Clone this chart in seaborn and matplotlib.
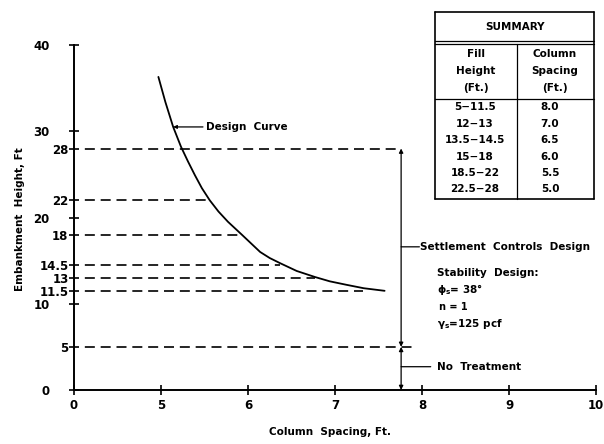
import matplotlib
matplotlib.use("Agg")
import matplotlib.pyplot as plt
import numpy as np
import seaborn as sns
from matplotlib.lines import Line2D

# design curve
curve_x = [4.85, 5.05, 5.14, 5.23, 5.31, 5.39, 5.47, 5.56, 5.66, 5.77, 5.93,
           6.14, 6.25, 6.37, 6.56, 6.77, 6.94, 7.13, 7.33, 7.57]
curve_y = [36.3, 33.4, 30.5, 28.2, 26.5, 24.9, 23.4, 22.0, 20.7, 19.5, 18.0,
           16.0, 15.3, 14.7, 13.8, 13.1, 12.6, 12.2, 11.8, 11.5]

# dashed fill-height levels and where they stop
level_y = [28, 22, 18, 14.5, 13, 11.5, 5]
level_end = [7.76, 5.56, 5.93, 6.37, 6.77, 7.32, 7.94]
level_labels = ["28", "22", "18", "14.5", "13", "11.5", "5"]

# axis ticks
x_ticks = [0, 5, 6, 7, 8, 9, 10]
x_tick_labels = ["0", "5", "6", "7", "8", "9", "10"]
y_ticks = [0, 10, 20, 30, 40]
y_tick_labels = ["0", "10", "20", "30", "40"]

# summary table
fill_height = ["5\u221211.5", "12\u221213", "13.5\u221214.5", "15\u221218", "18.5\u221222", "22.5\u221228"]
column_spacing = ["8.0", "7.0", "6.5", "6.0", "5.5", "5.0"]

dim_x = 7.76  # dimension line

sns.set_style("ticks")
plt.rcParams["font.family"] = ["DejaVu Sans"]
plt.rcParams["font.weight"] = "bold"
plt.rcParams["mathtext.fontset"] = "dejavusans"
plt.rcParams["mathtext.default"] = "bf"
for k in ["text.color", "axes.labelcolor", "xtick.color", "ytick.color", "axes.edgecolor"]:
    plt.rcParams[k] = "black"

fig = plt.figure(figsize=(6.04, 4.44), dpi=100)
ax = fig.add_axes([74 / 604, 1 - 390 / 444, 522 / 604, 345 / 444])


# broken x axis: 0-5 squeezed into one unit
def fwd(x):
    x = np.asarray(x, dtype=float)
    return np.where(x < 5, x / 5.0, x - 4.0)


def inv(u):
    u = np.asarray(u, dtype=float)
    return np.where(u < 1, u * 5.0, u + 4.0)


ax.set_xscale("function", functions=(fwd, inv))
ax.set_xlim(0, 10)
ax.set_ylim(0, 40)

sns.lineplot(x=curve_x, y=curve_y, sort=False, color="black", lw=1.3, ax=ax)

ax.hlines(level_y, -0.3, level_end, colors="black", linestyles=(0, (6, 3.5)),
          lw=1.2, clip_on=False)

# dimension arrows
arw = dict(arrowstyle="<|-|>", color="black", lw=0.9, mutation_scale=6,
           shrinkA=0, shrinkB=0)
ax.annotate("", xy=(dim_x, 28), xytext=(dim_x, 5), arrowprops=arw)
ax.annotate("", xy=(dim_x, 5), xytext=(dim_x, 0), arrowprops=arw)

# labels with leaders
ax.annotate("Design  Curve", xy=(5.14, 30.5), xytext=(5.52, 30.5), va="center",
            fontsize=7.5, arrowprops=dict(arrowstyle="-|>", color="black", lw=0.9,
                                          mutation_scale=5, shrinkA=0, shrinkB=0))
ax.annotate("", xy=(dim_x, 16.6), xytext=(7.97, 16.6),
            arrowprops=dict(arrowstyle="-", color="black", lw=0.9, shrinkA=0, shrinkB=0))
ax.text(7.98, 16.6, "Settlement  Controls  Design", va="center", fontsize=7.5)
ax.annotate("", xy=(dim_x, 2.7), xytext=(8.1, 2.7),
            arrowprops=dict(arrowstyle="-", color="black", lw=0.9, shrinkA=0, shrinkB=0))
ax.text(8.17, 2.7, "No  Treatment", va="center", fontsize=7.5)

ax.text(8.17, 13.6, "Stability  Design:", va="center", fontsize=7.5)
ax.text(8.17, 11.6, r"$\phi_s$= 38°", va="center", fontsize=7.5)
ax.text(8.2, 9.6, "n = 1", va="center", fontsize=7)
ax.text(8.17, 7.7, r"$\gamma_s$=125 pcf", va="center", fontsize=7.5)

# axes styling
sns.despine(ax=ax)
for s in ["left", "bottom"]:
    ax.spines[s].set_linewidth(1.4)
ax.set_xticks(x_ticks)
ax.set_xticklabels(x_tick_labels)
ax.set_xticks([], minor=True)
ax.set_yticks(y_ticks)
ax.set_yticklabels(y_tick_labels)
ax.set_yticks(level_y, minor=True)
ax.set_yticklabels(level_labels, minor=True)
ax.tick_params(axis="both", which="major", direction="inout", length=7, width=1.2,
               labelsize=8.5, colors="black")
ax.tick_params(axis="y", which="major", pad=14)
ax.tick_params(axis="x", which="major", pad=3)
ax.tick_params(axis="y", which="minor", length=0, pad=4, labelsize=8.5,
               colors="black")

fig.text(20 / 604, 1 - 219 / 444, "Embankment  Height, Ft", rotation=90,
         ha="center", va="center", fontsize=7.5)
fig.text(330 / 604, 1 - 432 / 444, "Column  Spacing, Ft.", ha="center", va="center",
         fontsize=7.5)


# summary table drawn in figure pixels
def fx(px):
    return px / 604


def fy(py):
    return 1 - py / 444


def hline(py, x0, x1, lw=1.0):
    fig.add_artist(Line2D([fx(x0), fx(x1)], [fy(py), fy(py)], color="black", lw=lw,
                          transform=fig.transFigure))


def vline(px, y0, y1, lw=1.0):
    fig.add_artist(Line2D([fx(px), fx(px)], [fy(y0), fy(y1)], color="black", lw=lw,
                          transform=fig.transFigure))


tl, tm, tr, tt, tb = 435, 517, 594, 12, 199
hline(tt, tl, tr, 1.2)
hline(tb, tl, tr, 1.2)
vline(tl, tt, tb, 1.2)
vline(tr, tt, tb, 1.2)
hline(41.5, tl, tr, 0.9)
hline(44, tl, tr, 0.9)
hline(99, tl, tr, 0.9)
vline(tm, 44, tb, 0.9)

fig.text(fx(515), fy(27), "SUMMARY", ha="center", va="center", fontsize=7.5)
for txt, py in zip(["Fill", "Height", "(Ft.)"], [54, 71, 88]):
    fig.text(fx(476), fy(py), txt, ha="center", va="center", fontsize=7.5)
for txt, py in zip(["Column", "Spacing", "(Ft.)"], [54, 71, 88]):
    fig.text(fx(555), fy(py), txt, ha="center", va="center", fontsize=7.5)
row_y = [107, 124, 140, 157, 173, 189]
for fh, cs, py in zip(fill_height, column_spacing, row_y):
    fig.text(fx(475), fy(py), fh, ha="center", va="center", fontsize=7.5)
    fig.text(fx(550), fy(py), cs, ha="center", va="center", fontsize=7.5)

fig.savefig("out.png", dpi=100)
